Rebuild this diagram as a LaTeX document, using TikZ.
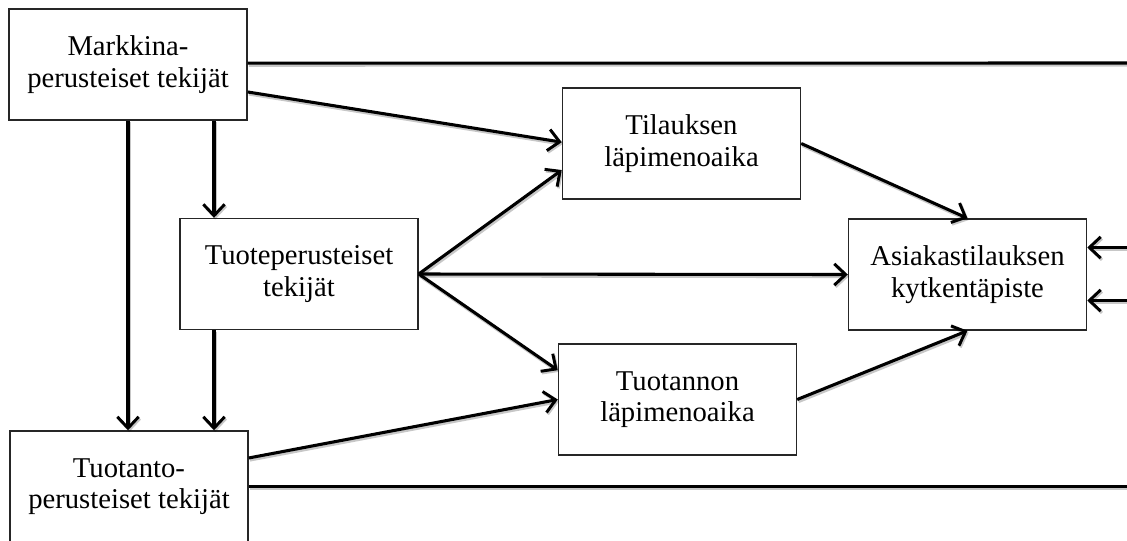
\documentclass[tikz,border=0pt]{standalone}
\usepackage{fontspec}
\setmainfont{Liberation Serif}
\usetikzlibrary{arrows.meta,calc}

\begin{document}
\begin{tikzpicture}[
  x=0.75pt, y=-0.75pt,
  box/.style={draw=black!85, line width=1.1pt, fill=white, inner sep=0pt,
    minimum width=178.5pt, minimum height=83.25pt, align=center,
    font=\fontsize{21.5}{23.5}\selectfont},
  link/.style={line width=2.3pt, black,
    preaction={draw=black, opacity=0.22, line width=2.8pt,
      transform canvas={shift={(0.9pt,-1.3pt)}}}},
  arr/.style={link, -{Straight Barb[length=8.5pt, width=16pt, line width=2.2pt]}},
]
\useasboundingbox (0,0) rectangle (1127,540);

% factor boxes on the left
\node[box] (mark) at (128,64.5)  {Markkina-\\perusteiset tekijät};
\node[box] (tuote) at (299,274)  {Tuoteperusteiset\\tekijät};
\node[box] (tuot) at (129,486.5) {Tuotanto-\\perusteiset tekijät};

% lead times and the decoupling point
\node[box] (til) at (681.5,143.5)   {Tilauksen\\läpimenoaika};
\node[box] (tuotn) at (677.5,399.5) {Tuotannon\\läpimenoaika};
\node[box] (asi) at (967.5,274.5)   {Asiakastilauksen\\kytkentäpiste};

% feedback lines leaving past the right edge
\coordinate (fbtop) at (1140,63);
\coordinate (fbbot) at (1140,486.5);
\coordinate (fbin1) at (1140,247.5);
\coordinate (fbin2) at (1140,300.5);

\draw[link] ([yshift=1pt]mark.east) -- (fbtop);
\draw[link] (tuot.east) -- (fbbot);
\draw[arr] (fbin1) -- (asi.east |- fbin1);
\draw[arr] (fbin2) -- (asi.east |- fbin2);

% market-based factors
\draw[arr] ([yshift=-20.6pt]mark.east) -- ([yshift=1pt]til.west);
\draw[arr] ([xshift=64.5pt]mark.south) -- ([xshift=64.5pt]mark.south |- tuote.north);
\draw[arr] (mark.south) -- (mark.south |- tuot.north);

% product-based factors
\draw[arr] ([xshift=-63.75pt]tuote.south) -- ([xshift=-63.75pt]tuote.south |- tuot.north);
\draw[arr] (tuote.east) -- ([yshift=-19.9pt]til.west);
\draw[arr] (tuote.east) -- (asi.west);
\draw[arr] (tuote.east) -- ([yshift=22pt]tuotn.west);

% production-based factors
\draw[arr] ([yshift=21.4pt]tuot.east) -- (tuotn.west);

% lead times into the decoupling point
\draw[arr] (til.east) -- (asi.north);
\draw[arr] (tuotn.east) -- (asi.south);
\end{tikzpicture}
\end{document}
